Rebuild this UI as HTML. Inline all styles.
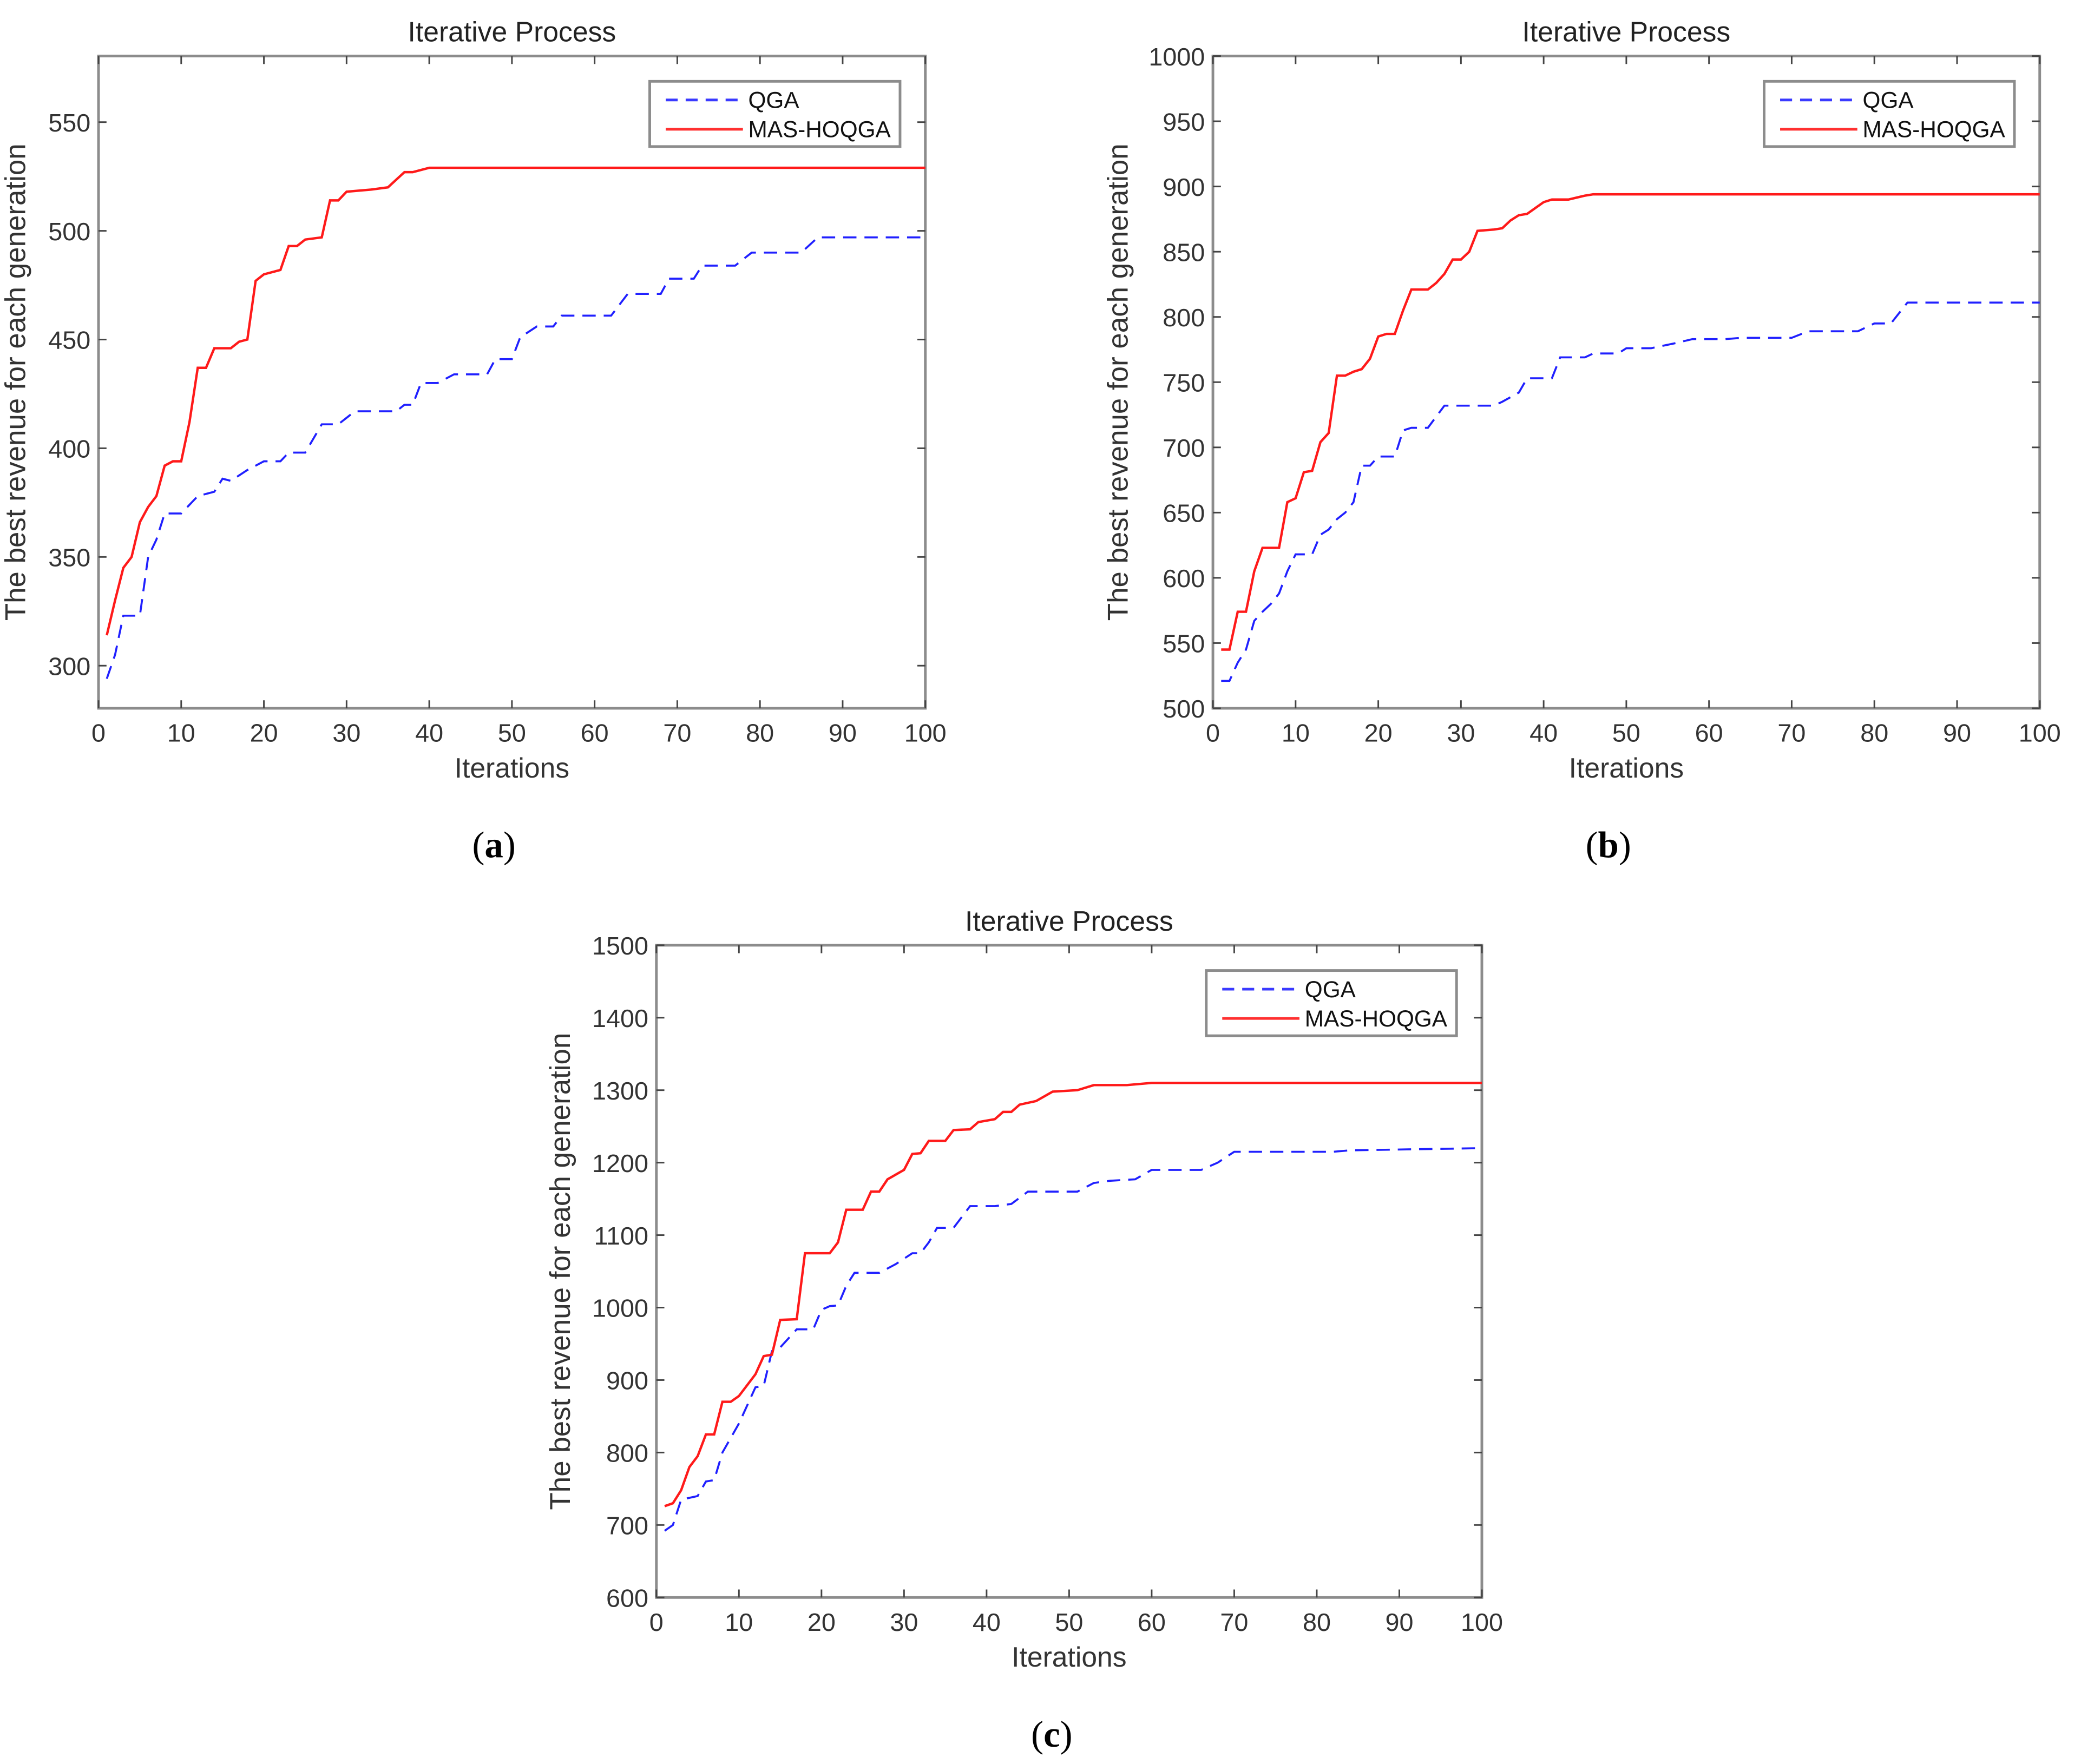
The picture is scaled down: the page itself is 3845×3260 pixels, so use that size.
<!DOCTYPE html>
<html><head><meta charset="utf-8"><style>html,body{margin:0;padding:0;background:#fff}svg{display:block}</style></head>
<body>
<svg id="fig" xmlns="http://www.w3.org/2000/svg" width="3845" height="3260" viewBox="0 0 1563 1325" font-family="'Liberation Sans', sans-serif"></svg>
<script>
// Panel (a)
const aMasX=[1,2,3,4,5,6,7,8,9,10,11,12,13,14,16,17,18,19,20,22,23,24,25,27,28,29,30,33,35,37,38,40,100];
const aMasY=[314,330,345,350,366,373,378,392,394,394,412,437,437,446,446,449,450,477,480,482,493,493,496,497,514,514,518,519,520,527,527,529,529];
const aQgaX=[1,2,3,5,6,7,8,10,12,14,15,16,18,20,22,23,25,27,29,31,36,37,38,39,41,43,47,48,50,51,53,55,56,62,64,68,69,72,73,77,79,85,87,100];
const aQgaY=[294,305,323,323,350,358,370,370,378,380,386,385,390,394,394,398,398,411,411,417,417,420,420,430,430,434,434,441,441,451,456,456,461,461,471,471,478,478,484,484,490,490,497,497];
const aTicksY=[300,350,400,450,500,550];
// Panel (b)
const bMasX=[1,2,3,4,5,6,8,9,10,11,12,13,14,15,16,17,18,19,20,21,22,23,24,26,27,28,29,30,31,32,34,35,36,37,38,40,41,43,45,46,100];
const bMasY=[545,545,574,574,605,623,623,658,661,681,682,704,711,755,755,758,760,768,785,787,787,805,821,821,826,833,844,844,850,866,867,868,874,878,879,888,890,890,893,894,894];
const bQgaX=[1,2,3,4,5,6,7,8,9,10,12,13,14,15,16,17,18,19,20,22,23,24,26,28,34,35,37,38,41,42,45,46,49,50,53,56,58,62,64,70,72,78,80,82,84,100];
const bQgaY=[521,521,535,545,567,574,580,588,605,618,618,633,637,645,650,658,686,686,693,693,713,715,715,732,732,735,742,753,753,769,769,772,772,776,776,780,783,783,784,784,789,789,795,795,811,811];
const bTicksY=[500,550,600,650,700,750,800,850,900,950,1000];
// Panel (c)
const cMasX=[1,2,3,4,5,6,7,8,9,10,12,13,14,15,17,18,21,22,23,25,26,27,28,30,31,32,33,35,36,38,39,41,42,43,44,46,48,51,53,57,60,100];
const cMasY=[726,730,748,780,795,825,825,870,870,878,908,933,935,983,984,1075,1075,1090,1135,1135,1160,1160,1177,1190,1212,1213,1230,1230,1245,1246,1256,1260,1270,1270,1280,1285,1298,1300,1307,1307,1310,1310];
const cQgaX=[1,2,3,5,6,7,8,9,10,11,12,13,14,15,17,19,20,21,22,23,24,27,29,31,32,33,34,36,38,41,43,45,51,53,55,58,60,66,68,70,82,84,100];
const cQgaY=[692,700,735,740,760,762,800,820,840,865,890,892,940,945,970,970,997,1002,1003,1030,1048,1048,1060,1075,1075,1090,1110,1110,1140,1140,1143,1160,1160,1172,1175,1177,1190,1190,1200,1215,1215,1217,1220];
const cTicksY=[600,700,800,900,1000,1100,1200,1300,1400,1500];
const ticksX=[0,10,20,30,40,50,60,70,80,90,100];

const NS='http://www.w3.org/2000/svg';
const svg=document.getElementById('fig');
function mk(tag,attrs,parent,text){const e=document.createElementNS(NS,tag);for(const k in attrs)e.setAttribute(k,attrs[k]);if(text!==undefined)e.textContent=text;(parent||svg).appendChild(e);return e;}

function panel(id,L,R,T,B,ymin,ymax,ticksY,masX,masY,qgaX,qgaY,label,lx,ly,yoff){
  const g=mk('g',{});
  
  
  const sx=v=>L+(v-0)/100*(R-L);
  const sy=v=>B-(v-ymin)/(ymax-ymin)*(B-T);
  const t=mk('text',{x:(L+R)/2,y:T-11,'text-anchor':'middle','font-size':21,fill:'#222'},g,'Iterative Process');
  
  
  const box=mk('rect',{x:L,y:T,width:R-L,height:B-T,fill:'#fff',stroke:'#8c8c8c','stroke-width':2},g);
  
  
  ticksX.forEach(v=>{
    const x=sx(v);
    mk('line',{x1:x,x2:x,y1:B,y2:B-6,stroke:'#444','stroke-width':1.2},g);
    mk('line',{x1:x,x2:x,y1:T,y2:T+6,stroke:'#444','stroke-width':1.2},g);
    const tl=mk('text',{x:x,y:B+25,'text-anchor':'middle','font-size':19,fill:'#333'},g,String(v));
    
    
  });
  ticksY.forEach(v=>{
    const y=sy(v);
    mk('line',{x1:L,x2:L+6,y1:y,y2:y,stroke:'#444','stroke-width':1.2},g);
    mk('line',{x1:R,x2:R-6,y1:y,y2:y,stroke:'#444','stroke-width':1.2},g);
    const tl=mk('text',{x:L-6,y:y+7,'text-anchor':'end','font-size':19,fill:'#333'},g,String(v));
    
    
  });
  const xt=mk('text',{x:(L+R)/2,y:B+52,'text-anchor':'middle','font-size':21,fill:'#333'},g,'Iterations');
  
  
  const yx=L-yoff, yy=(T+B)/2;
  const yt=mk('text',{x:yx,y:yy,'text-anchor':'middle','font-size':21.5,fill:'#333',transform:`rotate(-90 ${yx} ${yy})`},g,'The best revenue for each generation');
  
  
  const q=mk('polyline',{points:qgaX.map((x,i)=>sx(x)+','+sy(qgaY[i])).join(' '),fill:'none',stroke:'#2020ff','stroke-width':1.5,'stroke-dasharray':'10,6'},g);
  
  
  const m=mk('polyline',{points:masX.map((x,i)=>sx(x)+','+sy(masY[i])).join(' '),fill:'none',stroke:'#ff1a1a','stroke-width':1.8},g);
  
  
  const lg=mk('g',{},g);
  
  
  const bx=R-207, by=T+19;
  mk('rect',{x:bx,y:by,width:188,height:49,fill:'#fff',stroke:'#8c8c8c','stroke-width':2},lg);
  mk('line',{x1:bx+12,x2:bx+70,y1:by+14,y2:by+14,stroke:'#3a3aff','stroke-width':2,'stroke-dasharray':'9,6'},lg);
  mk('line',{x1:bx+12,x2:bx+70,y1:by+36,y2:by+36,stroke:'#ff3030','stroke-width':2},lg);
  const e1=mk('text',{x:bx+74,y:by+20,'font-size':17.2,fill:'#111'},lg,'QGA');
  
  
  const e2=mk('text',{x:bx+74,y:by+42,'font-size':17.2,fill:'#111'},lg,'MAS-HOQGA');
  
  
  const pl=mk('text',{x:lx,y:ly,'text-anchor':'middle','font-size':28,'font-family':"'Liberation Serif', serif",fill:'#000'},svg);
  pl.innerHTML='(<tspan font-weight="bold">'+label+'</tspan>)';
  
  
}
panel('a',74,695,42,532,280.4,580.4,aTicksY,aMasX,aMasY,aQgaX,aQgaY,'a',371,644,55);
panel('b',911,1532,42,532,500,1000,bTicksY,bMasX,bMasY,bQgaX,bQgaY,'b',1208,644,64);
panel('c',493,1113,710,1200,600,1500,cTicksY,cMasX,cMasY,cQgaX,cQgaY,'c',790,1312,65);
</script>
</body></html>
